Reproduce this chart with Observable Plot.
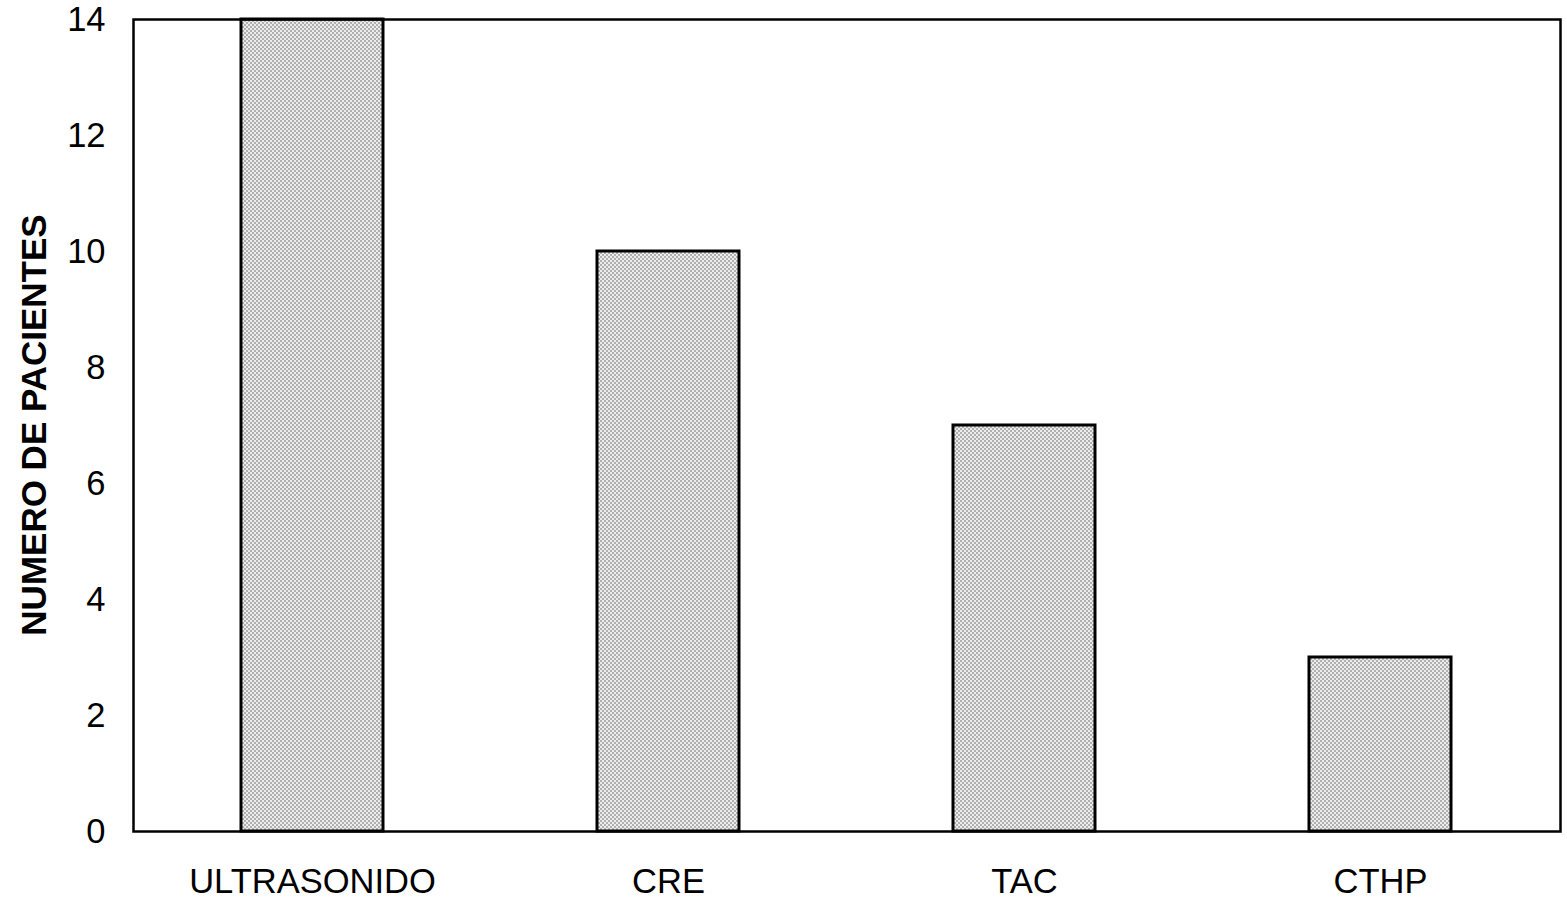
<!DOCTYPE html>
<html>
<head>
<meta charset="utf-8">
<script src="https://cdn.jsdelivr.net/npm/d3@7"></script>
<script src="https://cdn.jsdelivr.net/npm/@observablehq/plot@0.6"></script>
<style>
  html, body { margin: 0; padding: 0; background: #fff; }
  #chart svg { display: block; }
</style>
</head>
<body>
<div id="chart"></div>
<script>
const categories = ["ULTRASONIDO", "CRE", "TAC", "CTHP"];
const pacientes = [14, 10, 7, 3];
const yTicks = [0, 2, 4, 6, 8, 10, 12, 14];
const yLabel = "NUMERO DE PACIENTES";

const data = categories.map((c, i) => ({categoria: c, valor: pacientes[i]}));

const chart = Plot.plot({
  width: 1567,
  height: 901,
  marginLeft: 133,
  marginRight: 7,
  marginTop: 19,
  marginBottom: 70,
  style: {fontFamily: "'Liberation Sans', Arial, sans-serif", background: "#fff", color: "#000"},
  x: {domain: categories, paddingInner: 0.6, paddingOuter: 0.3, label: null},
  y: {domain: [0, 14], ticks: yTicks, label: null},
  marks: [
    Plot.barY(data, {x: "categoria", y: "valor", fill: "url(#stipple)", stroke: "#000", strokeWidth: 3}),
    Plot.frame({stroke: "#000", strokeWidth: 2.5}),
    Plot.axisY({ticks: yTicks, tickSize: 0, tickPadding: 28, fontSize: 34.5, label: null}),
    Plot.axisX({tickSize: 0, tickPadding: 37, fontSize: 34.5, label: null})
  ]
});

// stipple pattern for the bars
const ns = "http://www.w3.org/2000/svg";
const defs = document.createElementNS(ns, "defs");
const pat = document.createElementNS(ns, "pattern");
pat.setAttribute("id", "stipple");
pat.setAttribute("width", "4");
pat.setAttribute("height", "4");
pat.setAttribute("patternUnits", "userSpaceOnUse");
const bg = document.createElementNS(ns, "rect");
bg.setAttribute("width", "4"); bg.setAttribute("height", "4"); bg.setAttribute("fill", "#ececec");
pat.appendChild(bg);
[[0,0],[2,2]].forEach(([x,y]) => {
  const r = document.createElementNS(ns, "rect");
  r.setAttribute("x", x); r.setAttribute("y", y);
  r.setAttribute("width", "2"); r.setAttribute("height", "2");
  r.setAttribute("fill", "#b0b0b0");
  pat.appendChild(r);
});
defs.appendChild(pat);
chart.insertBefore(defs, chart.firstChild);

// rotated bold y label
const t = document.createElementNS(ns, "text");
t.setAttribute("transform", "translate(33,425) rotate(-90)");
t.setAttribute("text-anchor", "middle");
t.setAttribute("dominant-baseline", "central");
t.setAttribute("font-size", "35");
t.setAttribute("font-weight", "bold");
t.setAttribute("fill", "#000");
t.textContent = yLabel;
chart.appendChild(t);

document.getElementById("chart").appendChild(chart);
</script>
</body>
</html>
